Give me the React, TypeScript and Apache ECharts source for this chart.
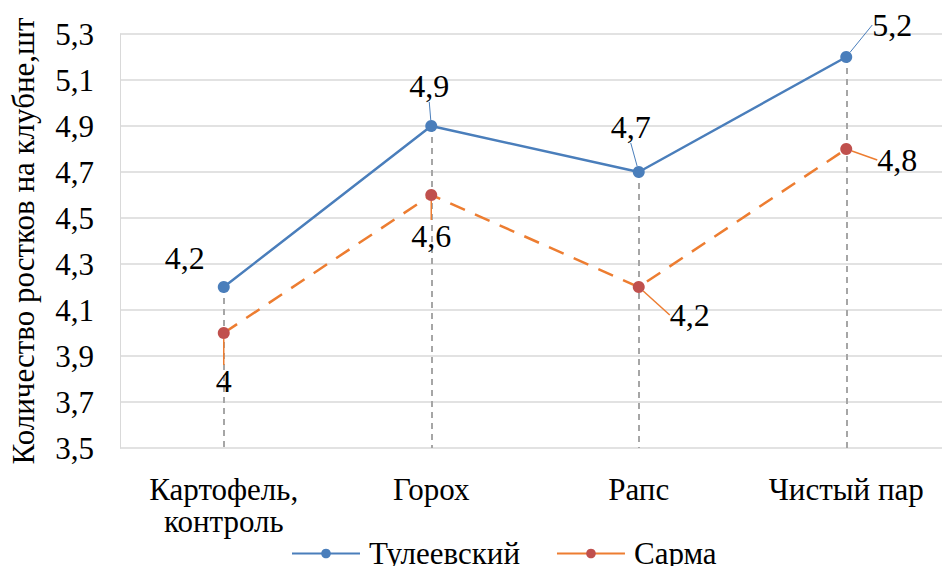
import React, { useEffect, useRef } from "react";
import * as echarts from "echarts";

const categories = ["Картофель,\nконтроль", "Горох", "Рапс", "Чистый пар"];
const tuleevsky = [4.2, 4.9, 4.7, 5.2];
const sarma = [4.0, 4.6, 4.2, 4.8];
const seriesNames = ["Тулеевский", "Сарма"];
const yAxisName = "Количество ростков на клубне,шт";

const FONT = "Liberation Serif";
const fmt = (v: number) => {
  const s = Number.isInteger(v) ? String(v) : v.toFixed(1);
  return s.replace(".", ",");
};

// label offsets (pixel layout tweaks)
const tuleevskyLabelShift = [
  [-39, -29, false],
  [-2, -40, true],
  [-8, -45, true],
  [46, -32, true],
];
const sarmaLabelShift = [
  [0, 48, true],
  [0, 41, true],
  [51, 28, true],
  [51, 11, true],
];

export default function App() {
  const ref = useRef<HTMLDivElement>(null);
  useEffect(() => {
    if (!ref.current) return;
    const chart = echarts.init(ref.current, undefined, { renderer: "svg" });
    const blue = "#4a7ebb";
    const orange = "#ed7d31";
    const red = "#c0504d";
    chart.setOption({
      animation: false,
      textStyle: { fontFamily: FONT },
      grid: { left: 120, right: 0, top: 34, bottom: 126, containLabel: false },
      legend: {
        bottom: 0,
        left: 286,
        itemWidth: 68,
        itemHeight: 12,
        itemGap: 36,
        textStyle: {
          fontFamily: FONT,
          fontSize: 31,
          color: "#000",
          padding: [0, 0, 0, 4],
        },
        data: [
          { name: seriesNames[0] },
          { name: seriesNames[1], lineStyle: { type: "solid" } },
        ],
      },
      xAxis: {
        type: "category",
        data: categories,
        boundaryGap: true,
        axisLine: { show: false },
        axisTick: { show: false },
        axisLabel: {
          fontFamily: FONT,
          fontSize: 31,
          color: "#000",
          margin: 25,
          lineHeight: 32,
        },
      },
      yAxis: {
        type: "value",
        min: 3.5,
        max: 5.3,
        interval: 0.2,
        name: yAxisName,
        nameLocation: "middle",
        nameGap: 81,
        nameTextStyle: { fontFamily: FONT, fontSize: 31, color: "#000" },
        axisLine: { show: true, lineStyle: { color: "#d9d9d9", width: 1 } },
        axisTick: { show: false },
        splitLine: { lineStyle: { color: "#d9d9d9", width: 1.5 } },
        axisLabel: {
          fontFamily: FONT,
          fontSize: 31,
          color: "#000",
          margin: 26,
          formatter: (v: number) => v.toFixed(1).replace(".", ","),
        },
      },
      series: [
        {
          name: seriesNames[0],
          type: "line",
          data: tuleevsky.map((v, i) => ({
            value: v,
            labelLine: { show: tuleevskyLabelShift[i][2] as boolean },
          })),
          symbol: "circle",
          symbolSize: 12,
          lineStyle: { color: blue, width: 2.5 },
          itemStyle: { color: blue },
          z: 3,
          label: {
            show: true,
            position: "inside",
            fontFamily: FONT,
            fontSize: 32,
            color: "#000",
            formatter: (p: any) => fmt(p.value),
          },
          labelLine: { show: true, lineStyle: { color: blue, width: 1 } },
          labelLayout: (p: any) => ({
            dx: tuleevskyLabelShift[p.dataIndex][0] as number,
            dy: tuleevskyLabelShift[p.dataIndex][1] as number,
          }),
          markLine: {
            silent: true,
            symbol: "none",
            label: { show: false },
            lineStyle: { color: "#a6a6a6", type: [6, 5], width: 2 },
            data: tuleevsky.map((v, i) => [
              { coord: [i, v] },
              { coord: [i, 3.5] },
            ]),
            z: 1,
          },
        },
        {
          name: seriesNames[1],
          type: "line",
          data: sarma.map((v, i) => ({
            value: v,
            labelLine: { show: sarmaLabelShift[i][2] as boolean },
          })),
          symbol: "circle",
          symbolSize: 12,
          lineStyle: { color: orange, width: 2.5, type: [16, 11] },
          itemStyle: { color: red },
          z: 4,
          label: {
            show: true,
            position: "inside",
            fontFamily: FONT,
            fontSize: 32,
            color: "#000",
            formatter: (p: any) => fmt(p.value),
          },
          labelLine: { show: true, lineStyle: { color: orange, width: 1.5 } },
          labelLayout: (p: any) => ({
            dx: sarmaLabelShift[p.dataIndex][0] as number,
            dy: sarmaLabelShift[p.dataIndex][1] as number,
          }),
        },
      ],
    });
    return () => chart.dispose();
  }, []);
  return <div ref={ref} style={{ width: 950, height: 574, margin: -8 }} />;
}
